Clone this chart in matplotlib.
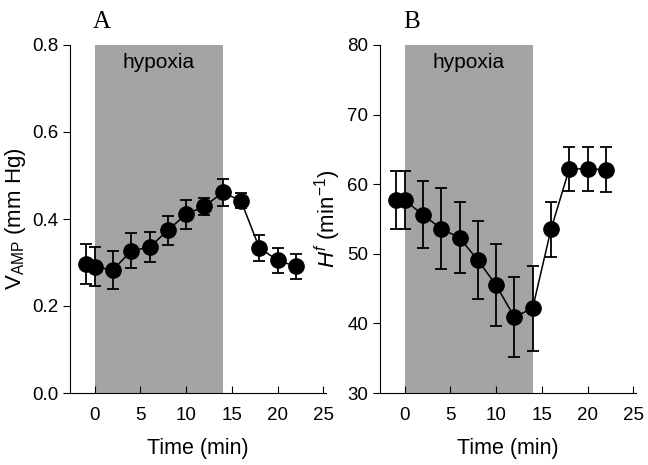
import matplotlib.pyplot as plt
import numpy as np

plt.rcParams['font.family'] = ['Liberation Sans', 'DejaVu Sans']
plt.rcParams['mathtext.fontset'] = 'custom'
plt.rcParams['mathtext.rm'] = 'Liberation Sans'
plt.rcParams['mathtext.it'] = 'Liberation Sans:italic'

# data
time = [-1, 0, 2, 4, 6, 8, 10, 12, 14, 16, 18, 20, 22]
vamp = [0.297, 0.290, 0.283, 0.327, 0.335, 0.374, 0.411, 0.429, 0.461, 0.442, 0.334, 0.305, 0.291]
vamp_err = [0.046, 0.045, 0.044, 0.040, 0.035, 0.033, 0.033, 0.020, 0.032, 0.017, 0.030, 0.029, 0.029]
hf = [57.7, 57.7, 55.6, 53.6, 52.3, 49.1, 45.5, 40.9, 42.2, 53.5, 62.2, 62.2, 62.1]
hf_err = [4.2, 4.2, 4.8, 5.8, 5.1, 5.6, 5.9, 5.7, 6.1, 4.0, 3.2, 3.2, 3.2]
hypoxia = (0, 14)

fig = plt.figure(figsize=(6.48, 4.65), dpi=100)
ax1 = fig.add_axes([70 / 648, 72 / 465, 256 / 648, 348 / 465])
ax2 = fig.add_axes([380 / 648, 72 / 465, 256 / 648, 348 / 465])

panels = [
    (ax1, vamp, vamp_err, (0, 0.8), np.arange(0, 0.81, 0.2), '%.1f',
     r'$\mathrm{V}_{\mathrm{AMP}}$ (mm Hg)', 'A'),
    (ax2, hf, hf_err, (30, 80), np.arange(30, 81, 10), '%d',
     r'$H^{f}$ (min$^{-1}$)', 'B'),
]

for ax, y, err, ylim, yticks, fmt, ylabel, letter in panels:
    ax.axvspan(hypoxia[0], hypoxia[1], color='#a4a4a4', lw=0, zorder=0)
    ax.errorbar(time, y, yerr=err, fmt='-o', color='black', ms=11,
                lw=1.1, elinewidth=1.3, capsize=4.5, capthick=1.3)
    ax.set_xlim(-2.7, 25.3)
    ax.set_ylim(*ylim)
    ax.set_xticks([0, 5, 10, 15, 20, 25])
    ax.set_yticks(yticks)
    ax.set_yticklabels([fmt % v for v in yticks])
    ax.spines['top'].set_visible(False)
    ax.spines['right'].set_visible(False)
    ax.tick_params(axis='x', direction='in', length=5, labelsize=13.5, pad=10)
    ax.tick_params(axis='y', direction='out', length=5, labelsize=13.5)
    ax.set_xlabel('Time (min)', fontsize=15.5, labelpad=10)
    ax.set_ylabel(ylabel, fontsize=16, labelpad=3)
    ax.text(7, ylim[0] + 0.95 * (ylim[1] - ylim[0]), 'hypoxia',
            ha='center', va='center', fontsize=15)
    ax.text(0.09, 1.035, letter, transform=ax.transAxes, fontsize=18,
            family='Liberation Serif', va='bottom')

fig.savefig('out.png', dpi=100)
